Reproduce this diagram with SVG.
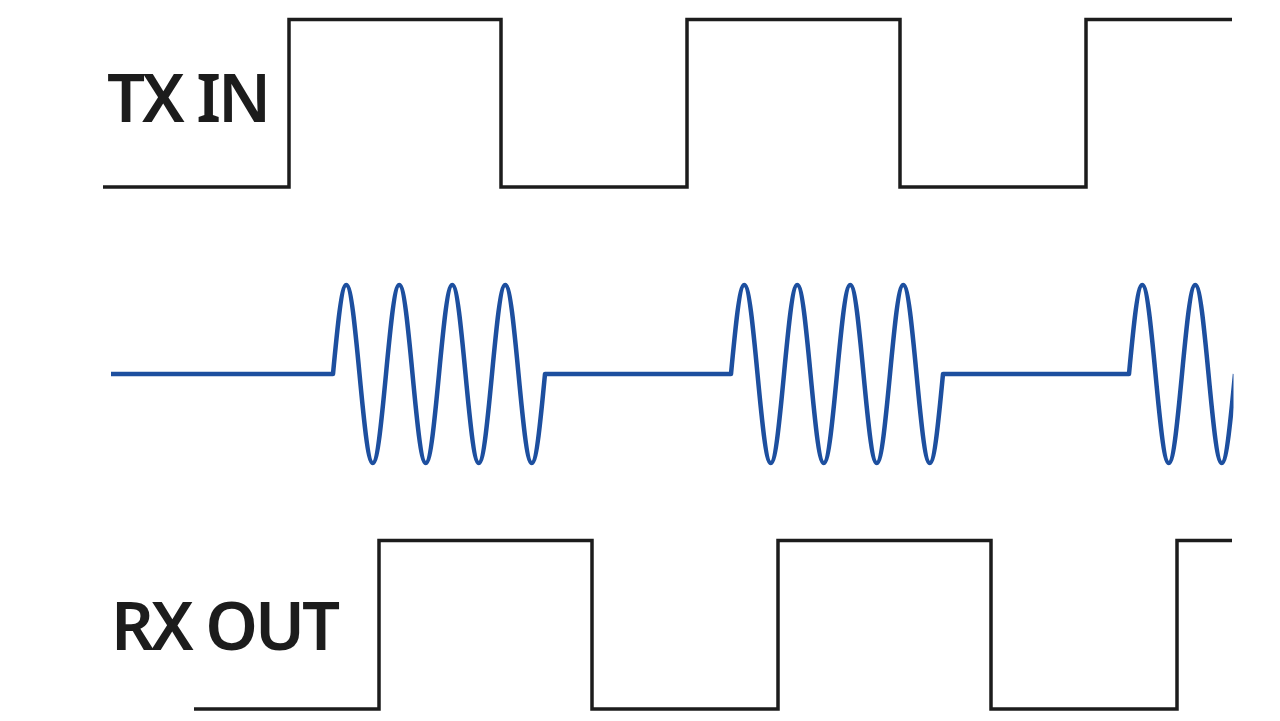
<svg xmlns="http://www.w3.org/2000/svg" width="1280" height="721" viewBox="0 0 1280 721">
  <style>
    .sq { fill: none; stroke: #1c1c1c; stroke-width: 3.5; stroke-linejoin: miter; stroke-linecap: butt; }
    .rf { fill: none; stroke: #1d4f9f; stroke-width: 4.5; stroke-linejoin: round; stroke-linecap: butt; }
    .lbl { font-family: "Noto Sans", "Open Sans", "Liberation Sans", sans-serif; font-weight: 600; font-size: 67px; fill: #1c1c1c; letter-spacing: -3px; }
  </style>
  <defs>
    <clipPath id="clipR">
      <rect x="0" y="0" width="1233.5" height="721"/>
    </clipPath>
  </defs>
  <rect width="1280" height="721" fill="#ffffff"/>
  <g id="tx-in">
    <text class="lbl" x="107" y="122">TX IN</text>
    <path class="sq" d="M103,187 H289 V19.5 H501 V187 H687 V19.5 H900 V187 H1086 V19.5 H1232"/>
  </g>
  <g id="rf-carrier" clip-path="url(#clipR)">
    <path class="rf" d="M111,374 H333
      c4.321,-45.59 8.455,-89 13.25,-89 c4.795,0 8.929,43.41 13.25,89 c4.321,45.59 8.455,89 13.25,89 c4.795,0 8.929,-43.41 13.25,-89
      c4.321,-45.59 8.455,-89 13.25,-89 c4.795,0 8.929,43.41 13.25,89 c4.321,45.59 8.455,89 13.25,89 c4.795,0 8.929,-43.41 13.25,-89
      c4.321,-45.59 8.455,-89 13.25,-89 c4.795,0 8.929,43.41 13.25,89 c4.321,45.59 8.455,89 13.25,89 c4.795,0 8.929,-43.41 13.25,-89
      c4.321,-45.59 8.455,-89 13.25,-89 c4.795,0 8.929,43.41 13.25,89 c4.321,45.59 8.455,89 13.25,89 c4.795,0 8.929,-43.41 13.25,-89
      H731
      c4.321,-45.59 8.455,-89 13.25,-89 c4.795,0 8.929,43.41 13.25,89 c4.321,45.59 8.455,89 13.25,89 c4.795,0 8.929,-43.41 13.25,-89
      c4.321,-45.59 8.455,-89 13.25,-89 c4.795,0 8.929,43.41 13.25,89 c4.321,45.59 8.455,89 13.25,89 c4.795,0 8.929,-43.41 13.25,-89
      c4.321,-45.59 8.455,-89 13.25,-89 c4.795,0 8.929,43.41 13.25,89 c4.321,45.59 8.455,89 13.25,89 c4.795,0 8.929,-43.41 13.25,-89
      c4.321,-45.59 8.455,-89 13.25,-89 c4.795,0 8.929,43.41 13.25,89 c4.321,45.59 8.455,89 13.25,89 c4.795,0 8.929,-43.41 13.25,-89
      H1129
      c4.321,-45.59 8.455,-89 13.25,-89 c4.795,0 8.929,43.41 13.25,89 c4.321,45.59 8.455,89 13.25,89 c4.795,0 8.929,-43.41 13.25,-89
      c4.321,-45.59 8.455,-89 13.25,-89 c4.795,0 8.929,43.41 13.25,89 c4.321,45.59 8.455,89 13.25,89 c4.795,0 8.929,-43.41 13.25,-89"/>
  </g>
  <g id="rx-out">
    <text class="lbl" x="111" y="650">RX OUT</text>
    <path class="sq" d="M194,709 H379 V540.5 H592 V709 H778 V540.5 H991 V709 H1177 V540.5 H1232"/>
  </g>
  <g id="connectors"></g>
</svg>
